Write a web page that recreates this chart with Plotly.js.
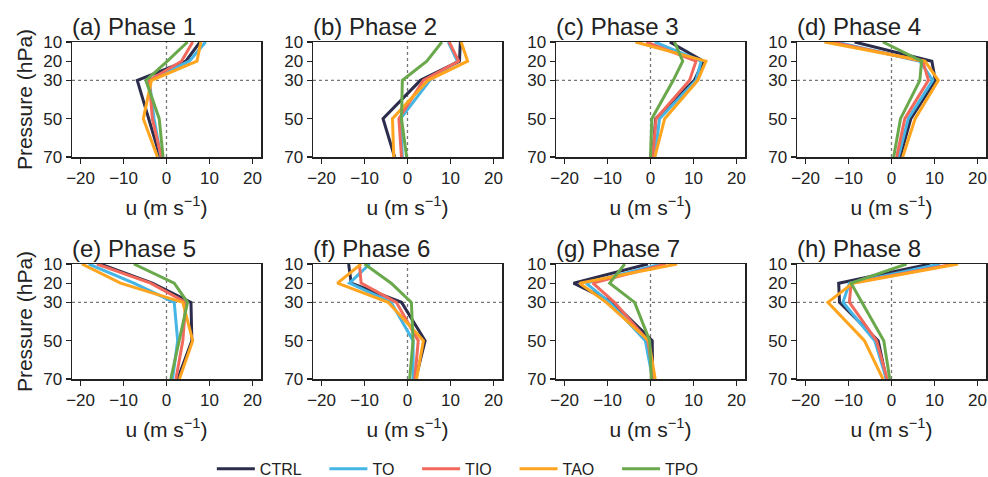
<!DOCTYPE html>
<html>
<head>
<meta charset="utf-8">
<script src="https://cdn.plot.ly/plotly-3.0.1.min.js"></script>
<style>html,body{margin:0;padding:0;background:#fff;}#chart{width:988px;height:477px;}</style>
</head>
<body>
<div id="chart"></div>
<script>
// Pressure levels (hPa)
const levels = [10, 20, 30, 50, 70];
const panelTitles = ['(a) Phase 1','(b) Phase 2','(c) Phase 3','(d) Phase 4','(e) Phase 5','(f) Phase 6','(g) Phase 7','(h) Phase 8'];
const runNames = ['CTRL', 'TO', 'TIO', 'TAO', 'TPO'];
const runColors = ['#2c2c4c', '#45b5e5', '#f2695c', '#ffa41e', '#6aa84c'];
const xTicks = [-20, -10, 0, 10, 20];
const yTicks = [10, 20, 30, 50, 70];
const refU = 0;      // dotted reference zonal wind
const refP = 30;     // dotted reference pressure level

// u (m s^-1) at levels [10,20,30,50,70], one row per phase 1..8
const CTRL = [
  [7.8, 4.5, -6.8, -4.1, -1.5],
  [12.3, 12.1, 3.0, -5.7, -3.0],
  [4.5, 12.3, 10.2, 1.2, 0.5],
  [-8.6, 9.4, 10.2, 4.5, 2.0],
  [-15.4, -3.3, 5.7, 5.9, 2.6],
  [-13.7, -13.1, -1.4, 4.1, 1.9],
  [-0.6, -17.9, -8.8, 0.4, 0.5],
  [9.0, -12.3, -12.1, -3.1, -1.2]
];
const TO = [
  [9.1, 5.3, -4.0, -2.9, -1.3],
  [9.5, 11.6, 5.2, -1.6, -1.2],
  [1.0, 11.8, 10.6, 2.1, 1.0],
  [-12.9, 6.6, 9.6, 3.9, 1.6],
  [-18.1, -7.6, 1.8, 2.6, 1.4],
  [-8.8, -13.5, -3.8, 1.3, 1.3],
  [2.5, -15.0, -9.5, -1.2, 0.5],
  [11.3, -9.8, -11.3, -3.9, -1.2]
];
const TIO = [
  [6.1, 3.5, -4.0, -3.3, -1.2],
  [9.7, 11.9, 3.7, -2.0, -1.4],
  [-1.0, 10.6, 9.1, 1.3, 0.5],
  [-14.0, 7.3, 8.6, 3.1, 1.2],
  [-16.2, -3.7, 4.5, 3.8, 2.2],
  [-11.2, -10.8, -2.6, 2.5, 1.7],
  [3.6, -13.4, -8.4, -0.6, 0.7],
  [14.5, -9.4, -9.8, -3.5, -1.0]
];
const TAO = [
  [8.0, 7.1, -3.5, -5.4, -2.1],
  [12.5, 14.0, 4.8, -3.5, -3.2],
  [-3.5, 12.9, 11.0, 3.3, 1.0],
  [-15.6, 7.8, 10.9, 5.5, 2.6],
  [-19.7, -10.7, 3.8, 6.1, 3.0],
  [-10.8, -16.3, -4.5, 3.7, 2.1],
  [6.2, -16.5, -10.3, -0.4, 1.1],
  [15.5, -9.0, -14.8, -6.3, -2.0]
];
const TPO = [
  [4.9, 0.2, -4.8, -1.7, -0.8],
  [8.0, 4.5, -1.2, -1.4, -0.2],
  [5.6, 7.5, 5.3, 0.3, 0.0],
  [-2.0, 7.0, 6.6, 2.1, 0.5],
  [-7.6, 1.8, 4.9, 3.0, 1.0],
  [-10.0, -3.8, 0.9, 1.3, 0.5],
  [-6.0, -9.5, -3.7, -0.2, 0.2],
  [3.5, -9.4, -6.9, -1.8, -0.4]
];
const runData = [CTRL, TO, TIO, TAO, TPO];

// ---- layout geometry (pixels) ----
const W = 988, H = 477;
const colLeft = [72, 313, 556, 797];
const panelW = 189;
const rowTop = [42, 264];
const panelH = 115;
const FONT = '"Liberation Sans", Arial, Helvetica, sans-serif';
const INK = '#222';
const legendPad = '\u00a0\u00a0\u00a0\u00a0';

const traces = [];
const layout = {
  width: W, height: H,
  margin: {l: 0, r: 0, t: 0, b: 0, autoexpand: false},
  paper_bgcolor: '#fff', plot_bgcolor: '#fff',
  font: {family: FONT, color: INK, size: 16},
  showlegend: true,
  legend: {orientation: 'h', x: 0.472, xanchor: 'center', y: 0.017, yanchor: 'middle',
           itemwidth: 38,
           font: {size: 16, color: INK}, bgcolor: 'rgba(0,0,0,0)', tracegroupgap: 0},
  annotations: [], shapes: []
};

for (let p = 0; p < 8; p++) {
  const r = Math.floor(p / 4), c = p % 4;
  const sfx = p === 0 ? '' : String(p + 1);
  const xa = 'x' + sfx, ya = 'y' + sfx;
  const x0 = colLeft[c] / W, x1 = (colLeft[c] + panelW) / W;
  const y1 = 1 - rowTop[r] / H, y0 = 1 - (rowTop[r] + panelH) / H;

  layout['xaxis' + sfx] = {
    domain: [x0, x1], anchor: ya, range: [-22, 22],
    tickmode: 'array', tickvals: xTicks, ticks: 'outside', ticklen: 5, tickwidth: 1.3, tickcolor: INK,
    showline: true, linecolor: INK, linewidth: 1.5, mirror: true, showgrid: false, zeroline: false,
    tickfont: {size: 17, color: INK},
    title: {text: 'u (m s<sup>−1</sup>)', font: {size: 21, color: INK}, standoff: 13},
    automargin: false
  };
  layout['yaxis' + sfx] = {
    domain: [y0, y1], anchor: xa, range: [70, 10],
    tickmode: 'array', tickvals: yTicks, ticks: 'outside', ticklen: 5, tickwidth: 1.3, tickcolor: INK,
    showline: true, linecolor: INK, linewidth: 1.5, mirror: true, showgrid: false, zeroline: false,
    tickfont: {size: 17, color: INK},
    title: c === 0 ? {text: 'Pressure (hPa)', font: {size: 21, color: INK}, standoff: 5} : {text: ''},
    automargin: false
  };

  layout.annotations.push({
    text: panelTitles[p], xref: 'paper', yref: 'paper',
    x: x0 - 2 / W, xanchor: 'left', y: y1, yanchor: 'bottom',
    showarrow: false, font: {size: 24, color: INK}
  });

  layout.shapes.push({type: 'line', xref: xa, yref: ya + ' domain', x0: refU, x1: refU, y0: 0, y1: 1,
                      line: {color: '#777', width: 1.3, dash: 'dot'}, layer: 'below'});
  layout.shapes.push({type: 'line', xref: xa + ' domain', yref: ya, x0: 0, x1: 1, y0: refP, y1: refP,
                      line: {color: '#777', width: 1.3, dash: 'dot'}, layer: 'below'});

  for (let k = 0; k < runNames.length; k++) {
    traces.push({
      type: 'scatter', mode: 'lines',
      x: runData[k][p], y: levels,
      xaxis: xa, yaxis: ya,
      name: runNames[k] + legendPad, legendgroup: runNames[k], showlegend: p === 0,
      line: {color: runColors[k], width: 3},
      hoverinfo: 'skip'
    });
  }
}

Plotly.newPlot('chart', traces, layout, {staticPlot: true, displayModeBar: false});
</script>
</body>
</html>
